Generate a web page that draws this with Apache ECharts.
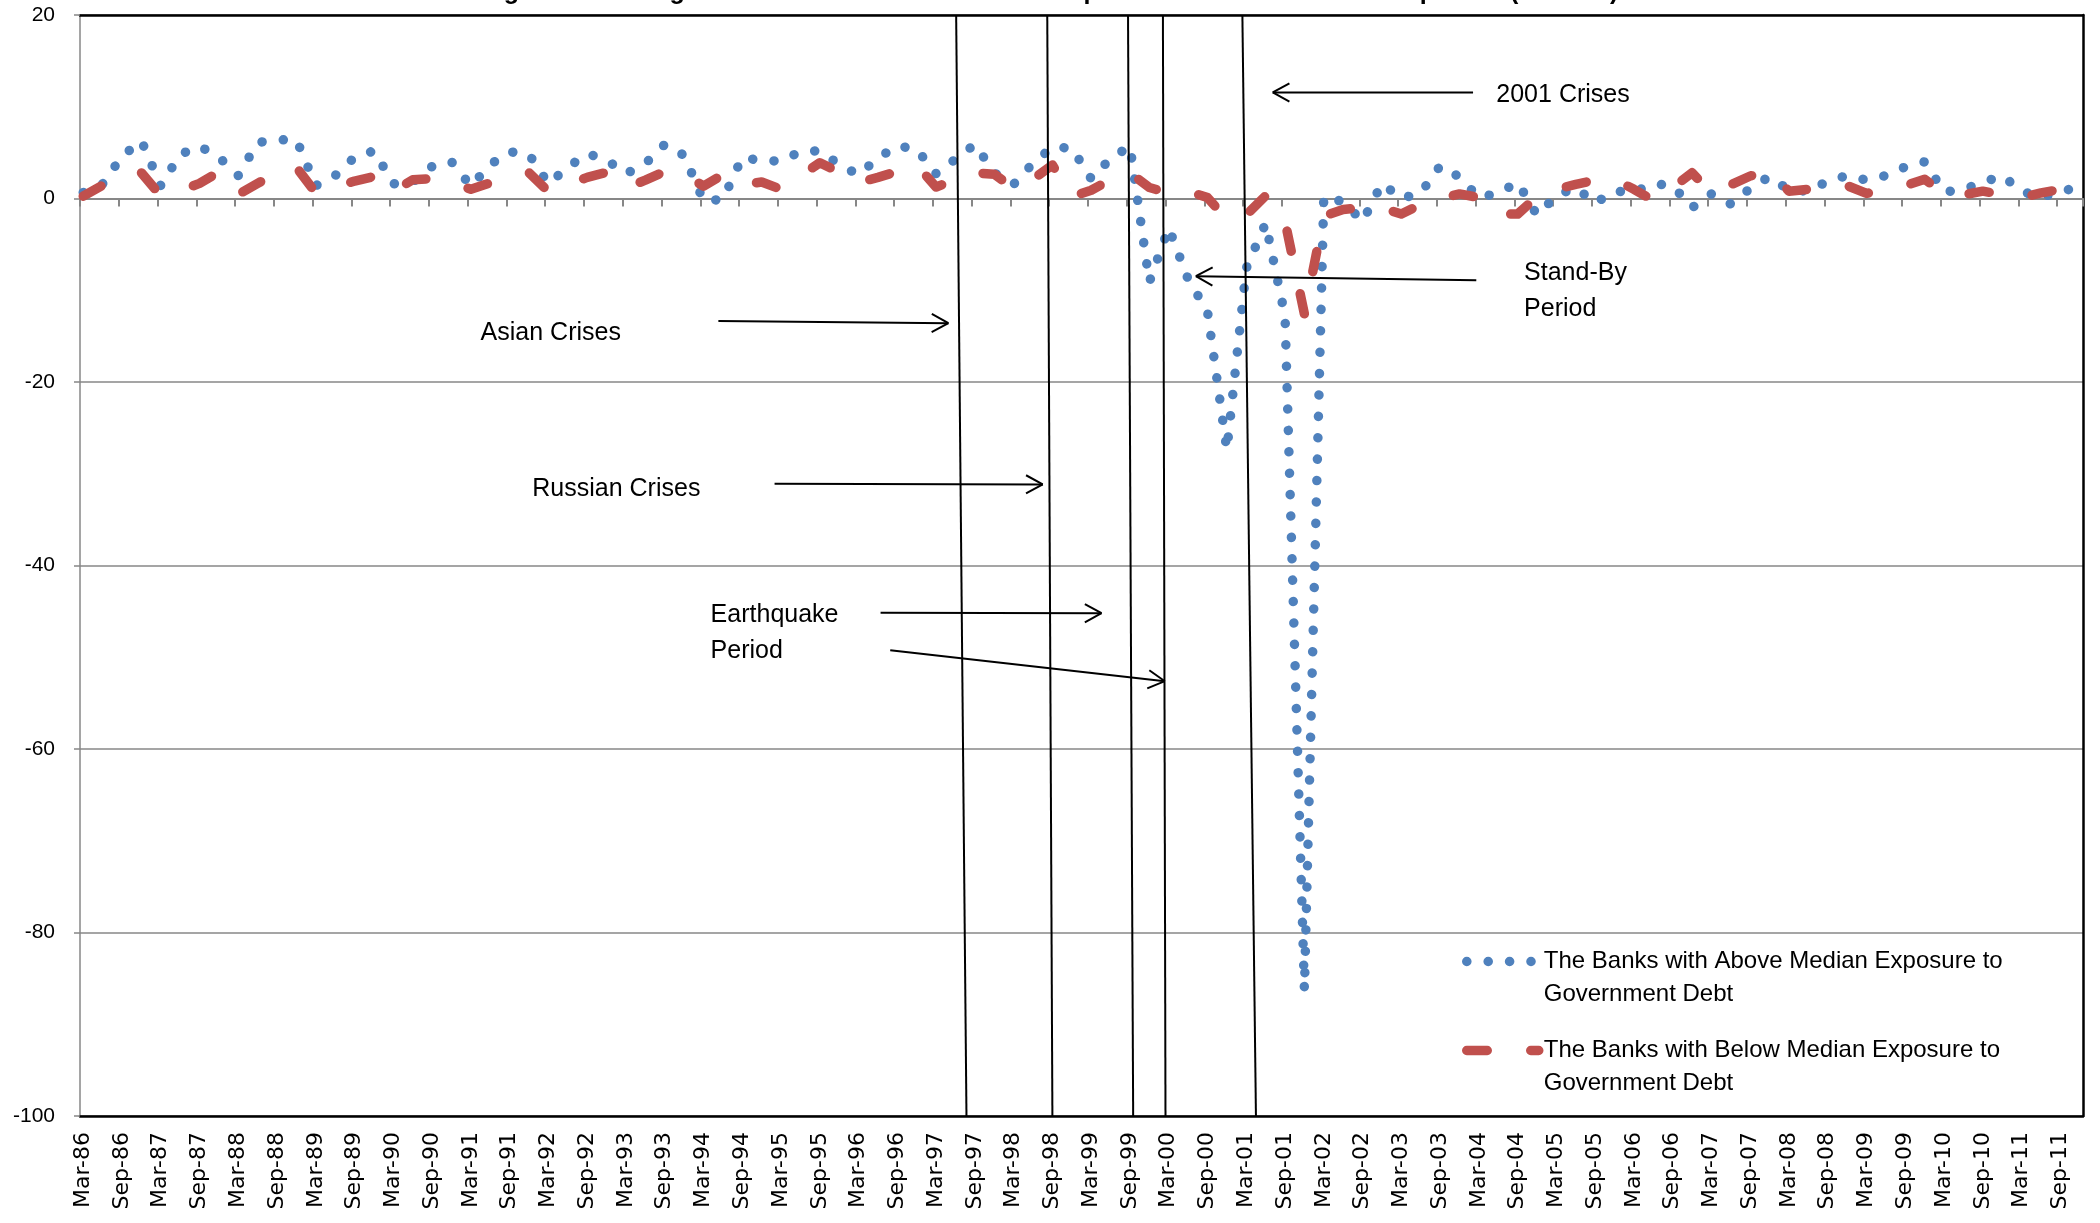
<!DOCTYPE html>
<html>
<head>
<meta charset="utf-8">
<script src="https://cdn.jsdelivr.net/npm/echarts@6/dist/echarts.min.js"></script>
<style>
html,body{margin:0;padding:0;background:#ffffff;}
#chart{width:2100px;height:1223px;}
</style>
</head>
<body>
<div id="chart"></div>
<script>
// ---------- DATA ----------
const titleText = 'Figure 3:  Average Profits to Assets Ratio with Respect to Government Debt Exposure (Percent)';
const nameAbove = 'The Banks with Above Median Exposure to Government Debt';
const nameBelow = 'The Banks with Below Median Exposure to Government Debt';

// month names used to build the monthly category axis (Mar-86 ... Dec-11)
const monthNames = ['Mar','Apr','May','Jun','Jul','Aug','Sep','Oct','Nov','Dec','Jan','Feb'];
const firstYear = 1986;
const monthCount = 310;

// quarterly observations: Mar-86, Jun-86, Sep-86, Dec-86, ... Dec-11 (104 quarters)
const aboveMedian = [
  0.65, 1.6, 4.6, 6.3, 1.4, 4.8, 5.7, 4.5, 2.5, 6.1,
  6.4, 6.4, 1.4, 2.5, 4.5, 5.2, 1.6, 1.8, 3.5, 4.0,
  1.35, 3.7, 5.1, 4.8, 1.6, 3.4, 4.9, 4.2, 2.7, 3.8,
  5.9, 4.7, -0.25, -0.1, 4.5, 4.1, 4.1, 5.1, 5.2, 3.7,
  2.6, 4.4, 5.75, 5.35, 2.7, 4.3, 5.9, 2.8, 1.55, 3.85,
  5.6, 5.5, 2.15, 4.35, 5.7, -9.1, -3.2, -8.8, -12.3, -27.4,
  -7.6, -2.7, -12.8, -86.3, 0.2, -0.35, -2.5, 1.65, 0.0, 0.6,
  3.55, 2.35, 0.1, 0.6, 1.75, -1.8, 0.3, 1.2, -0.5, 0.8,
  0.7, 1.6, 1.4, -1.0, 0.5, -0.6, 1.1, 2.4, 0.9, 0.8,
  1.9, 2.5, 2.0, 2.5, 3.45, 4.0, 0.7, 1.0, 1.75, 2.5,
  0.8, 0.1, 0.8, 1.2
];
const belowMedian = [
  0.25, 1.45, 2.6, 2.8, 0.3, 0.85, 1.65, 2.9, 0.45, 1.65,
  2.8, 3.4, 0.6, 1.2, 1.9, 2.4, 0.75, 2.05, 2.15, 1.75,
  1.0, 1.7, 2.3, 2.8, 0.75, 1.55, 2.3, 2.85, 1.15, 2.0,
  2.95, 2.65, 1.35, 2.6, 1.5, 1.8, 1.0, 2.45, 3.9, 2.85,
  1.75, 2.3, 2.95, 3.65, 1.25, 2.1, 2.8, 2.65, 1.1, 2.1,
  3.65, 0.2, 0.9, 2.05, 2.8, 1.2, 0.6, 0.8, 0.1, -2.3,
  -1.8, 0.3, -2.5, -12.6, -1.9, -1.2, -1.0, -1.0, -1.7, -0.65,
  0.0, 0.5, 0.1, -1.7, -1.7, 0.2, 1.0, 1.55, 2.0, 2.1,
  1.0, -0.2, 1.2, 2.8, 0.6, 1.5, 2.45, 3.0, 0.8, 1.0,
  1.45, 1.4, 0.55, 0.95, 1.4, 2.1, 0.5, 0.4, 0.8, 0.4,
  0.1, 0.6, 1.0, 1.4
];

// annotation anchors in chart units: x = months since Mar-86 (left edge = 0), y = percent
const eventLines = [[135.6, 137.2], [149.7, 150.5], [162.2, 163.0], [167.6, 168.0], [179.9, 182.0]];
const arrows = [
  [[98.8, -13.34], [134.4, -13.59]],
  [[107.5, -31.1], [149.0, -31.16]],
  [[123.9, -45.16], [158.1, -45.2]],
  [[125.4, -49.23], [167.9, -52.61]],
  [[215.6, 11.56], [184.6, 11.56]],
  [[216.1, -8.9], [172.7, -8.47]]
];
const notes = [
  ['Asian Crises', [62.0, -14.62]],
  ['Russian Crises', [70.0, -31.7]],
  ['Earthquake\nPeriod', [97.6, -47.4]],
  ['2001 Crises', [219.2, 11.28]],
  ['Stand-By\nPeriod', [223.5, -10.07]]
];

// ---------- BUILD ----------
const months = [];
for (let m = 0; m < monthCount; m++) {
  const yr = firstYear + Math.floor((m + 2) / 12);
  months.push(monthNames[m % 12] + '-' + String(yr % 100).padStart(2, '0'));
}
function toMonthly(qv) {
  const out = new Array(monthCount).fill(null);
  qv.forEach(function (v, q) { out[3 * q] = v; });
  return out;
}

const FONT = '"Liberation Sans", Arial, sans-serif';
const GRAY = '#878787';
const BLUE = '#4F81BD';
const RED = '#C0504D';
const dotDash = [0.1, 21.3];
const longDash = [20.5, 43.5];
const chart = echarts.init(document.getElementById('chart'), null, {renderer: 'canvas'});

const option = {
  animation: false,
  backgroundColor: '#ffffff',
  title: {
    text: titleText, left: 'center', top: -20, padding: 0,
    textStyle: {fontFamily: FONT, fontSize: 25, fontWeight: 'bold', color: '#000'}
  },
  grid: {left: 80, right: 17, top: 15, bottom: 107, containLabel: false},
  xAxis: [
    {
      type: 'category', data: months, boundaryGap: true, position: 'bottom',
      axisLine: {show: true, onZero: false, lineStyle: {color: '#000', width: 2.5}},
      axisTick: {show: false},
      axisLabel: {interval: 5, rotate: 90, margin: 16, fontFamily: '"DejaVu Sans", sans-serif', fontSize: 22, color: '#000'},
      splitLine: {show: false}
    },
    {
      type: 'category', data: months, boundaryGap: true, position: 'bottom',
      axisLine: {show: true, onZero: true, onZeroAxisIndex: 0, lineStyle: {color: GRAY, width: 2}},
      axisTick: {show: true, interval: 5, length: 8, lineStyle: {color: GRAY, width: 2}},
      axisLabel: {show: false},
      splitLine: {show: false}
    },
    {
      type: 'value', min: 0, max: monthCount, position: 'top',
      axisLine: {show: true, onZero: false, lineStyle: {color: '#000', width: 2.5}},
      axisTick: {show: false}, axisLabel: {show: false}, splitLine: {show: false}
    }
  ],
  yAxis: [
    {
      type: 'value', min: -100, max: 20, interval: 20, position: 'left',
      axisLine: {show: true, onZero: false, lineStyle: {color: GRAY, width: 1.5}},
      axisTick: {show: true, length: 6, lineStyle: {color: GRAY, width: 1.5}},
      axisLabel: {margin: 25, fontFamily: FONT, fontSize: 21, color: '#000'},
      splitLine: {show: true, lineStyle: {color: GRAY, width: 1.5}}
    },
    {
      type: 'value', min: -100, max: 20, position: 'right',
      axisLine: {show: true, onZero: false, lineStyle: {color: '#000', width: 2.5}},
      axisTick: {show: false}, axisLabel: {show: false}, splitLine: {show: false}
    }
  ],
  legend: [
    {
      data: [nameAbove], orient: 'vertical', left: 1462, top: 912, padding: 0,
      itemWidth: 72, itemHeight: 20, selectedMode: false,
      itemStyle: {opacity: 0},
      lineStyle: {color: BLUE, width: 9.5, type: dotDash, cap: 'round', join: 'round'},
      formatter: function () { return ' \nThe Banks with Above Median Exposure to\nGovernment Debt'; },
      textStyle: {fontFamily: FONT, fontSize: 24, lineHeight: 33, color: '#000'}
    },
    {
      data: [nameBelow], orient: 'vertical', left: 1462, top: 1001, padding: 0,
      itemWidth: 72, itemHeight: 20, selectedMode: false,
      itemStyle: {opacity: 0},
      lineStyle: {color: RED, width: 9.5, type: longDash, cap: 'round', join: 'round'},
      formatter: function () { return ' \nThe Banks with Below Median Exposure to\nGovernment Debt'; },
      textStyle: {fontFamily: FONT, fontSize: 24, lineHeight: 33, color: '#000'}
    }
  ],
  series: [
    {
      name: nameAbove, type: 'line', xAxisIndex: 0, yAxisIndex: 0,
      data: toMonthly(aboveMedian), connectNulls: true,
      symbol: 'none', showSymbol: false, z: 3,
      itemStyle: {color: BLUE},
      lineStyle: {color: BLUE, width: 9.5, type: dotDash, cap: 'round', join: 'round'}
    },
    {
      name: nameBelow, type: 'line', xAxisIndex: 0, yAxisIndex: 0,
      data: toMonthly(belowMedian), connectNulls: true,
      symbol: 'none', showSymbol: false, z: 4,
      itemStyle: {color: RED},
      lineStyle: {color: RED, width: 9.5, type: longDash, cap: 'round', join: 'round'}
    }
  ]
};
chart.setOption(option);

// ---------- ANNOTATIONS (placed through the chart's own scales) ----------
function px(p) { return chart.convertToPixel({xAxisIndex: 2, yAxisIndex: 0}, p); }
const gfx = [];
eventLines.forEach(function (l) {
  const a = px([l[0], 20]), b = px([l[1], -100]);
  gfx.push({type: 'line', z: 100, shape: {x1: a[0], y1: a[1], x2: b[0], y2: b[1]}, style: {stroke: '#000', lineWidth: 2}});
});
arrows.forEach(function (ar) {
  const t = px(ar[0]), h = px(ar[1]);
  gfx.push({type: 'line', z: 100, shape: {x1: t[0], y1: t[1], x2: h[0], y2: h[1]}, style: {stroke: '#000', lineWidth: 2}});
  const ang = Math.atan2(t[1] - h[1], t[0] - h[0]);
  const len = 19, spread = 0.5;
  [ang - spread, ang + spread].forEach(function (a) {
    gfx.push({type: 'line', z: 100, shape: {x1: h[0], y1: h[1], x2: h[0] + len * Math.cos(a), y2: h[1] + len * Math.sin(a)}, style: {stroke: '#000', lineWidth: 2}});
  });
});
notes.forEach(function (n) {
  const p = px(n[1]);
  gfx.push({
    type: 'text', z: 100, x: p[0], y: p[1],
    style: {text: n[0], fill: '#000', font: '25px "Liberation Sans", Arial, sans-serif', fontSize: 25, fontFamily: '"Liberation Sans", Arial, sans-serif', align: 'left', verticalAlign: 'middle', textAlign: 'left', textVerticalAlign: 'middle', lineHeight: 36}
  });
});
chart.setOption({graphic: gfx});
</script>
</body>
</html>
